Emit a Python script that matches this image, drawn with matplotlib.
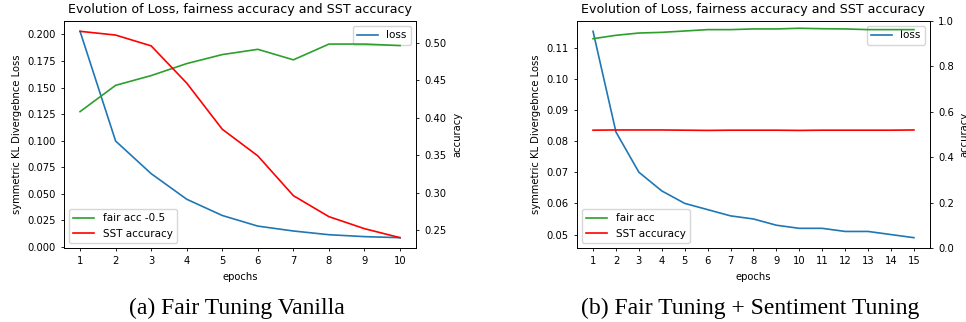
import numpy as np
import matplotlib
matplotlib.use('Agg')
import matplotlib.pyplot as plt

plt.rcParams.update({
    'font.size': 7.2,
    'axes.titlesize': 9.1,
    'axes.labelsize': 7.2,
    'xtick.labelsize': 7.2,
    'ytick.labelsize': 7.2,
    'legend.fontsize': 7.5,
    'lines.linewidth': 1.2,
    'axes.linewidth': 0.6,
    'xtick.major.size': 2.5,
    'ytick.major.size': 2.5,
    'xtick.major.width': 0.6,
    'ytick.major.width': 0.6,
})

# (a) Fair Tuning Vanilla
epochs_a = np.arange(1, 11)
loss_a = [0.203, 0.0997, 0.069, 0.0449, 0.0296, 0.0196, 0.0150, 0.0115, 0.0097, 0.0087]
fair_a = [0.408, 0.443, 0.456, 0.472, 0.484, 0.491, 0.477, 0.498, 0.498, 0.496]
sst_a = [0.515, 0.510, 0.4956, 0.446, 0.3845, 0.349, 0.296, 0.268, 0.252, 0.240]

# (b) Fair Tuning + Sentiment Tuning
epochs_b = np.arange(1, 16)
loss_b = [0.1152, 0.0829, 0.070, 0.064, 0.060, 0.058, 0.056, 0.055, 0.053, 0.052,
          0.052, 0.051, 0.051, 0.050, 0.049]
fair_b = [0.922, 0.937, 0.947, 0.950, 0.956, 0.962, 0.962, 0.965, 0.965, 0.968,
          0.966, 0.965, 0.962, 0.962, 0.962]
sst_b = [0.519, 0.520, 0.520, 0.520, 0.519, 0.518, 0.519, 0.519, 0.519, 0.518,
         0.519, 0.519, 0.519, 0.519, 0.520]

title = 'Evolution of Loss, fairness accuracy and SST accuracy'

fig = plt.figure(figsize=(9.66, 3.22), dpi=100)
ax_a = fig.add_axes([0.0663, 0.2298, 0.3644, 0.705])
ax_b = fig.add_axes([0.5973, 0.2298, 0.3654, 0.705])

panels = [
    (ax_a, epochs_a, loss_a, fair_a, sst_a, 'fair acc -0.5', None),
    (ax_b, epochs_b, loss_b, fair_b, sst_b, 'fair acc', (0, 1)),
]
for ax, ep, loss, fair, sst, fair_lbl, acc_lim in panels:
    ax.plot(ep, loss, color='tab:blue', label='loss')
    ax.set_xticks(ep)
    ax.set_xlabel('epochs')
    ax.set_ylabel('symmetric KL Divergebnce Loss')
    ax.set_title(title)
    ax.legend(loc='upper right')
    ax2 = ax.twinx()
    ax2.plot(ep, fair, color='tab:green', label=fair_lbl)
    ax2.plot(ep, sst, color='r', label='SST accuracy')
    if acc_lim is not None:
        ax2.set_ylim(*acc_lim)
    ax2.set_ylabel('accuracy')
    ax2.legend(loc='lower left')

fig.text(237/966, 1 - 308/322, '(a) Fair Tuning Vanilla', ha='center', va='center',
         family='Liberation Serif', fontsize=17)
fig.text(750/966, 1 - 308/322, '(b) Fair Tuning + Sentiment Tuning', ha='center', va='center',
         family='Liberation Serif', fontsize=17)

plt.savefig('out.png', dpi=100)
